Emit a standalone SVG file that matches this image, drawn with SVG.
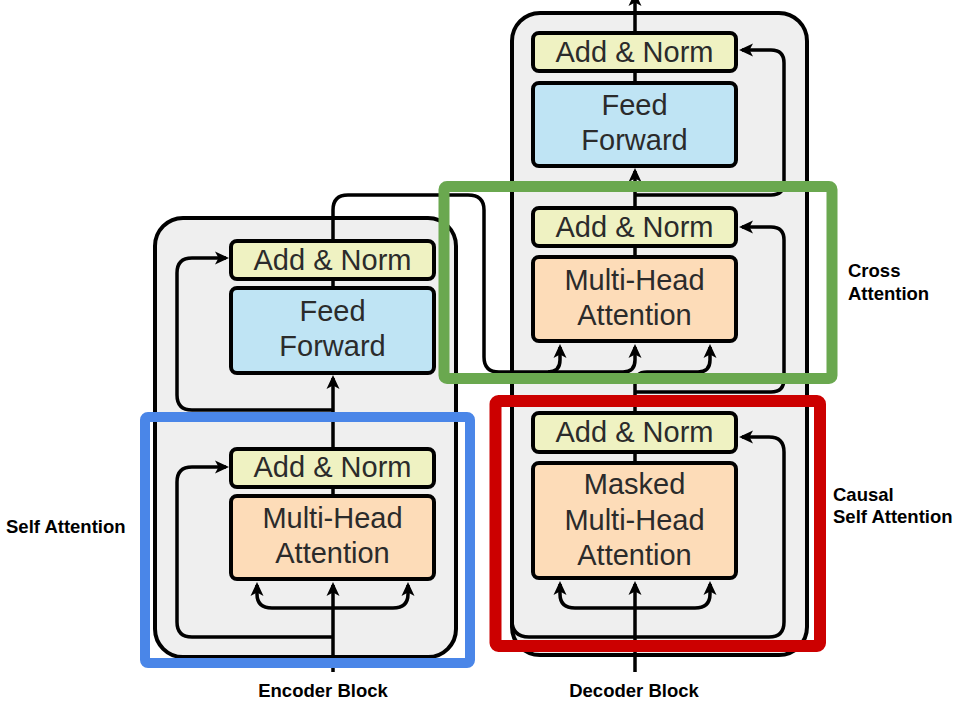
<svg xmlns="http://www.w3.org/2000/svg" width="960" height="720" viewBox="0 0 960 720">
<defs>
<marker id="ah" viewBox="0 0 14 14" markerWidth="14" markerHeight="14" refX="11" refY="7" orient="auto" markerUnits="userSpaceOnUse">
<path d="M0,0.5 L14,7 L0,13.5 L3.5,7 z" fill="#000"/>
</marker>
<style>
.blk{fill:#efefef;stroke:#000;stroke-width:4}
.an{fill:#eff2c2;stroke:#000;stroke-width:4}
.ff{fill:#bfe4f4;stroke:#000;stroke-width:4}
.mha{fill:#fddcb8;stroke:#000;stroke-width:4}
.t{font-family:"Liberation Sans",Arial,sans-serif;font-size:29px;fill:#2b2b2b;text-anchor:middle}
.lbl{font-family:"Liberation Sans",Arial,sans-serif;font-size:18.5px;font-weight:bold;fill:#000}
.c{fill:none;stroke:#000;stroke-width:3.5;stroke-linejoin:round}
.ca{fill:none;stroke:#000;stroke-width:3.5;stroke-linejoin:round;marker-end:url(#ah)}
</style>
</defs>
<rect width="960" height="720" fill="#fff"/>
<g id="encoder-block"><rect class="blk" x="155" y="218" width="301" height="439" rx="28"/></g>
<g id="decoder-block"><rect class="blk" x="512" y="13" width="295" height="642" rx="28"/></g>
<g id="connectors">
<path class="ca" d="M333,672 V585"/>
<path class="ca" d="M333,608 H272 Q257,608 257,594 V585"/>
<path class="ca" d="M333,608 H393 Q408,608 408,594 V585"/>
<path class="ca" d="M333,637 H192 Q177,637 177,622 V482 Q177,467 192,467 H226"/>
<path class="c" d="M333,579 V449"/>
<path class="ca" d="M333,449 V378"/>
<path class="ca" d="M333,410 H192 Q177,410 177,395 V273 Q177,258 192,258 H226"/>
<path class="c" d="M333,288 V279"/>
<path class="ca" d="M333,241 V210 Q333,195 348,195 H468 Q484,195 484,210 V357 Q484,372 499,372 H548 Q560,372 560,360 V347"/>
<path class="ca" d="M548,372 H623 Q635,372 635,360 V347"/>
<path class="ca" d="M635,672 V584"/>
<path class="ca" d="M635,608 H575 Q560,608 560,594 V584"/>
<path class="ca" d="M635,608 H695 Q710,608 710,594 V584"/>
<path class="c" d="M512,620 Q512,637 529,637 H635"/>
<path class="ca" d="M635,637 H769 Q784,637 784,622 V452 Q784,437 769,437 H742"/>
<path class="c" d="M635,463 V452"/>
<path class="ca" d="M635,413 V384 Q635,372 647,372 H698 Q710,372 710,360 V347"/>
<path class="ca" d="M635,392 H771 Q784,392 784,379 V240 Q784,227 771,227 H742"/>
<path class="c" d="M635,257 V246"/>
<path class="ca" d="M635,208 V171"/>
<path class="ca" d="M635,195 H771 Q784,195 784,182 V63 Q784,50 771,50 H742"/>
<path class="c" d="M635,83 V71"/>
<path class="ca" d="M635,33 V-5"/>
</g>
<g id="enc-addnorm-top"><rect class="an" x="231" y="241" width="203" height="38" rx="6"/><text class="t" x="332.5" y="270">Add &amp; Norm</text></g>
<g id="enc-feedforward"><rect class="ff" x="231" y="288" width="203" height="85" rx="6"/><text class="t" x="332.5" y="321">Feed</text><text class="t" x="332.5" y="356">Forward</text></g>
<g id="enc-addnorm-bottom"><rect class="an" x="231" y="449" width="203" height="38" rx="6"/><text class="t" x="332.5" y="477">Add &amp; Norm</text></g>
<g id="enc-mha"><rect class="mha" x="231" y="496" width="203" height="83" rx="6"/><text class="t" x="332.5" y="528">Multi-Head</text><text class="t" x="332.5" y="563">Attention</text></g>
<g id="dec-addnorm-top"><rect class="an" x="533" y="33" width="203" height="38" rx="6"/><text class="t" x="634.5" y="62">Add &amp; Norm</text></g>
<g id="dec-feedforward"><rect class="ff" x="533" y="83" width="203" height="83" rx="6"/><text class="t" x="634.5" y="115">Feed</text><text class="t" x="634.5" y="150">Forward</text></g>
<g id="dec-addnorm-mid"><rect class="an" x="533" y="208" width="203" height="38" rx="6"/><text class="t" x="634.5" y="237">Add &amp; Norm</text></g>
<g id="dec-mha"><rect class="mha" x="533" y="257" width="203" height="84" rx="6"/><text class="t" x="634.5" y="290">Multi-Head</text><text class="t" x="634.5" y="325">Attention</text></g>
<g id="dec-addnorm-bottom"><rect class="an" x="533" y="413" width="203" height="39" rx="6"/><text class="t" x="634.5" y="442">Add &amp; Norm</text></g>
<g id="dec-masked-mha"><rect class="mha" x="533" y="463" width="203" height="115" rx="6"/><text class="t" x="634.5" y="494">Masked</text><text class="t" x="634.5" y="530">Multi-Head</text><text class="t" x="634.5" y="565">Attention</text></g>
<g id="self-attention-box"><rect x="145" y="417" width="325" height="246" rx="3" fill="none" stroke="#4a86e8" stroke-width="10"/><text class="lbl" x="6" y="533">Self Attention</text></g>
<g id="cross-attention-box"><rect x="444" y="186.5" width="388" height="192" rx="3" fill="none" stroke="#6aa84f" stroke-width="11"/><text class="lbl" x="848" y="277">Cross</text><text class="lbl" x="848" y="300">Attention</text></g>
<g id="causal-attention-box"><rect x="495.5" y="401" width="324.5" height="245" rx="3" fill="none" stroke="#cc0000" stroke-width="12"/><text class="lbl" x="833" y="501">Causal</text><text class="lbl" x="833" y="523">Self Attention</text></g>
<g id="block-labels"><text class="lbl" x="323" y="697" text-anchor="middle">Encoder Block</text><text class="lbl" x="634" y="697" text-anchor="middle">Decoder Block</text></g>
</svg>
